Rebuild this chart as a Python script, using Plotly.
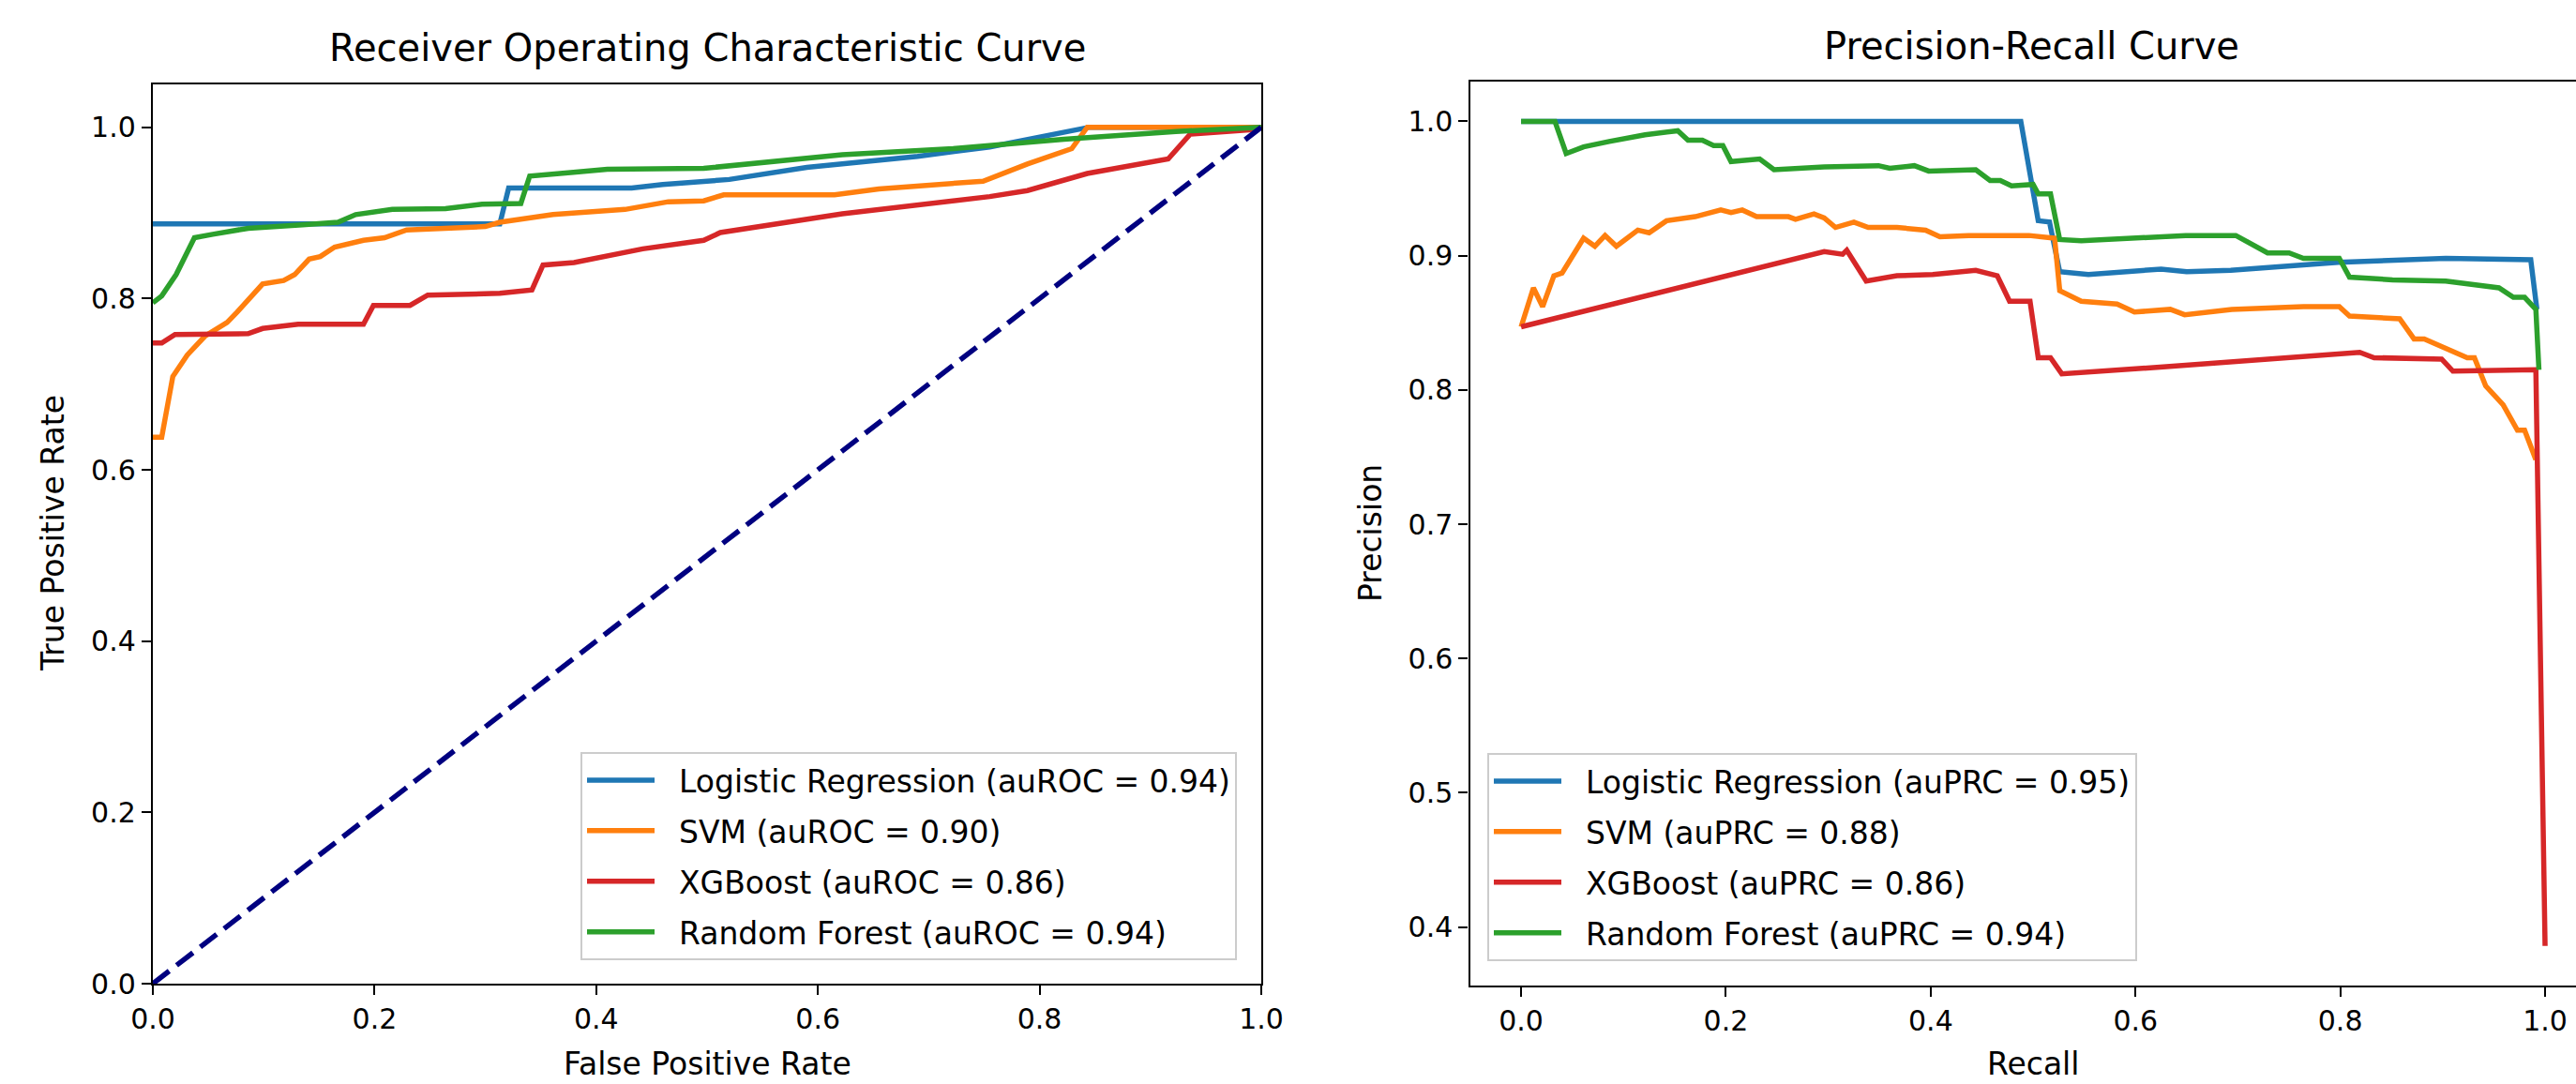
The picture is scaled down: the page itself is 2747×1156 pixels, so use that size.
import plotly.graph_objects as go

W, H = 2747, 1156

models = ["Logistic Regression", "SVM", "XGBoost", "Random Forest"]
colors = ["#1f77b4", "#ff7f0e", "#d62728", "#2ca02c"]
auroc = [0.94, 0.90, 0.86, 0.94]
auprc = [0.95, 0.88, 0.86, 0.94]

# ROC curves
fpr_lr = [0, 0.313, 0.321, 0.432, 0.46, 0.52, 0.59, 0.69, 0.755, 0.806, 0.845, 1.0]
tpr_lr = [0.887, 0.887, 0.929, 0.929, 0.933, 0.939, 0.953, 0.966, 0.977, 0.990, 1.0, 1.0]

fpr_svm = [0, .008, .018, .031, .047, .067, .076, .099, .118, .128,
           .141, .151, .164, .19, .209, .229, .30, .313, .345, .361,
           .426, .465, .497, .515, .615, .655, .749, .789, .829, .843, 1.0]
tpr_svm = [.638, .638, .709, .734, .756, .772, .784, .817, .821, .828,
           .846, .849, .860, .868, .871, .880, .884, .889, .895, .898,
           .904, .913, .914, .921, .921, .928, .937, .957, .975, 1.0, 1.0]

fpr_xgb = [0, .008, .02, .086, .099, .131, .19, .199, .232, .248,
           .313, .342, .352, .38, .442, .497, .512, .622, .755, .789,
           .843, .916, .936, .989, 1.0]
tpr_xgb = [.748, .748, .758, .759, .765, .770, .770, .792, .792, .804,
           .806, .810, .839, .842, .858, .868, .877, .899, .919, .926,
           .946, .963, .992, .997, 1.0]

fpr_rf = [0, .008, .021, .0375, .054, .086, .135, .167, .183, .216,
          .264, .297, .332, .340, .377, .41, .497, .555, .622, .722,
          .822, .923, 1.0]
tpr_rf = [.795, .803, .828, .871, .875, .882, .886, .889, .898, .904,
          .905, .910, .911, .943, .947, .951, .952, .959, .968, .975,
          .986, .995, 1.0]

# Precision-recall curves
rec_lr = [0, 0.488, 0.505, 0.516, 0.526, 0.554, 0.625, 0.65, 0.693, 0.798, 0.903, 0.986, 0.992]
prec_lr = [1.0, 1.0, 0.926, 0.925, 0.888, 0.886, 0.890, 0.888, 0.889, 0.895, 0.898, 0.897, 0.86]

rec_svm = [0, 0.012, 0.021, 0.032, 0.040, 0.061, 0.072, 0.082, 0.093, 0.114,
           0.125, 0.142, 0.170, 0.195, 0.205, 0.216, 0.230, 0.261, 0.268, 0.286,
           0.296, 0.307, 0.325, 0.339, 0.367, 0.395, 0.409, 0.437, 0.496, 0.514,
           0.521, 0.526, 0.547, 0.582, 0.599, 0.634, 0.648, 0.694, 0.764, 0.799,
           0.809, 0.858, 0.872, 0.882, 0.903, 0.924, 0.931, 0.942, 0.959, 0.973,
           0.980, 0.991]
prec_svm = [0.847, 0.876, 0.862, 0.885, 0.887, 0.913, 0.907, 0.915, 0.907, 0.919,
            0.917, 0.926, 0.929, 0.934, 0.932, 0.934, 0.929, 0.929, 0.927, 0.931,
            0.928, 0.921, 0.925, 0.921, 0.921, 0.919, 0.914, 0.915, 0.915, 0.913,
            0.913, 0.874, 0.866, 0.864, 0.858, 0.860, 0.856, 0.860, 0.862, 0.862,
            0.855, 0.853, 0.838, 0.838, 0.831, 0.824, 0.824, 0.803, 0.789, 0.770,
            0.770, 0.748]

rec_xgb = [0, 0.296, 0.314, 0.318, 0.337, 0.367, 0.402, 0.444, 0.465, 0.477,
           0.497, 0.505, 0.517, 0.528, 0.624, 0.819, 0.833, 0.899, 0.910, 0.991, 1.0]
prec_xgb = [0.847, 0.903, 0.901, 0.904, 0.881, 0.885, 0.886, 0.889, 0.885, 0.866,
            0.866, 0.824, 0.824, 0.812, 0.817, 0.828, 0.824, 0.823, 0.814, 0.815, 0.386]

rec_rf = [0, 0.033, 0.044, 0.061, 0.086, 0.121, 0.153, 0.163, 0.177, 0.188,
          0.197, 0.205, 0.233, 0.247, 0.296, 0.349, 0.360, 0.384, 0.398, 0.444,
          0.458, 0.468, 0.479, 0.500, 0.505, 0.517, 0.526, 0.547, 0.649, 0.698,
          0.729, 0.750, 0.764, 0.799, 0.809, 0.851, 0.903, 0.955, 0.969, 0.980,
          0.991, 0.994]
prec_rf = [1.0, 1.0, 0.976, 0.981, 0.985, 0.990, 0.993, 0.986, 0.986, 0.982,
           0.982, 0.970, 0.972, 0.964, 0.966, 0.967, 0.965, 0.967, 0.963, 0.964,
           0.956, 0.956, 0.952, 0.953, 0.946, 0.946, 0.912, 0.911, 0.915, 0.915,
           0.902, 0.902, 0.898, 0.898, 0.884, 0.882, 0.881, 0.876, 0.869, 0.869,
           0.860, 0.815]

roc_x = [fpr_lr, fpr_svm, fpr_xgb, fpr_rf]
roc_y = [tpr_lr, tpr_svm, tpr_xgb, tpr_rf]
pr_x = [rec_lr, rec_svm, rec_xgb, rec_rf]
pr_y = [prec_lr, prec_svm, prec_xgb, prec_rf]

FONT = "DejaVu Sans"
LW = 5.5
PAD = "\u00a0\u00a0"  # gap between legend line sample and label

def px_x(p):
    return p / W

def px_y(p):
    return 1 - p / H

fig = go.Figure()

for i, m in enumerate(models):
    fig.add_trace(go.Scatter(
        x=roc_x[i], y=roc_y[i], mode="lines",
        line=dict(color=colors[i], width=LW),
        name=f"{PAD}{m} (auROC = {auroc[i]:.2f})",
        legend="legend", legendgroup=f"roc{i}",
        xaxis="x", yaxis="y"))

fig.add_trace(go.Scatter(
    x=[0, 1], y=[0, 1], mode="lines",
    line=dict(color="navy", width=LW, dash="22px,10px"),
    showlegend=False, xaxis="x", yaxis="y"))

for i, m in enumerate(models):
    fig.add_trace(go.Scatter(
        x=pr_x[i], y=pr_y[i], mode="lines",
        line=dict(color=colors[i], width=LW),
        name=f"{PAD}{m} (auPRC = {auprc[i]:.2f})",
        legend="legend2", legendgroup=f"pr{i}",
        xaxis="x2", yaxis="y2"))

axis_common = dict(
    showgrid=False, zeroline=False, showline=True, linecolor="black",
    linewidth=2.4, ticks="outside", ticklen=10, tickwidth=2.4,
    tickcolor="black", tickfont=dict(family=FONT, size=30, color="black"),
    automargin=False,
)

legend_common = dict(
    bgcolor="rgba(255,255,255,0.8)", bordercolor="#cccccc", borderwidth=2,
    font=dict(family=FONT, size=33, color="black"),
    itemwidth=72, tracegroupgap=8, xanchor="left", yanchor="top",
    traceorder="grouped",
)

fig.update_layout(
    width=W, height=H,
    margin=dict(l=0, r=0, t=0, b=0),
    paper_bgcolor="white", plot_bgcolor="white",
    showlegend=True,
    xaxis=dict(domain=[px_x(163), px_x(1345)], range=[0, 1],
               tickvals=[0, 0.2, 0.4, 0.6, 0.8, 1.0], tickformat=".1f",
               mirror=True, anchor="y", **axis_common),
    yaxis=dict(domain=[px_y(1049), px_y(90)], range=[0, 1.05],
               tickvals=[0, 0.2, 0.4, 0.6, 0.8, 1.0], tickformat=".1f",
               mirror=True, anchor="x", **axis_common),
    xaxis2=dict(domain=[px_x(1567.5), 1.0], range=[-0.05, 1.0302],
                tickvals=[0, 0.2, 0.4, 0.6, 0.8, 1.0], tickformat=".1f",
                mirror=True, anchor="y2", **axis_common),
    yaxis2=dict(domain=[px_y(1051), px_y(87)], range=[0.3565, 1.0296],
                tickvals=[0.4, 0.5, 0.6, 0.7, 0.8, 0.9, 1.0], tickformat=".1f",
                mirror=False, anchor="x2", **axis_common),
    legend=dict(x=px_x(619), y=px_y(802), **legend_common),
    legend2=dict(x=px_x(1586), y=px_y(803), **legend_common),
)

ann_font = dict(family=FONT, color="black")
annotations = [
    dict(text="Receiver Operating Characteristic Curve", x=px_x(754), y=px_y(51),
         font=dict(size=40, **ann_font)),
    dict(text="Precision-Recall Curve", x=px_x(2166), y=px_y(49),
         font=dict(size=40, **ann_font)),
    dict(text="False Positive Rate", x=px_x(754), y=px_y(1134),
         font=dict(size=33, **ann_font)),
    dict(text="Recall", x=px_x(2168), y=px_y(1134),
         font=dict(size=33, **ann_font)),
    dict(text="True Positive Rate", x=px_x(57), y=px_y(569), textangle=-90,
         font=dict(size=33, **ann_font)),
    dict(text="Precision", x=px_x(1462), y=px_y(569), textangle=-90,
         font=dict(size=33, **ann_font)),
]
for a in annotations:
    a.update(xref="paper", yref="paper", xanchor="center", yanchor="middle",
             showarrow=False)
fig.update_layout(annotations=annotations)

fig.write_html(
    "out.html",
    config={"displayModeBar": False},
    post_script="document.body.style.margin='0';"
                "document.body.style.overflow='hidden';",
)
